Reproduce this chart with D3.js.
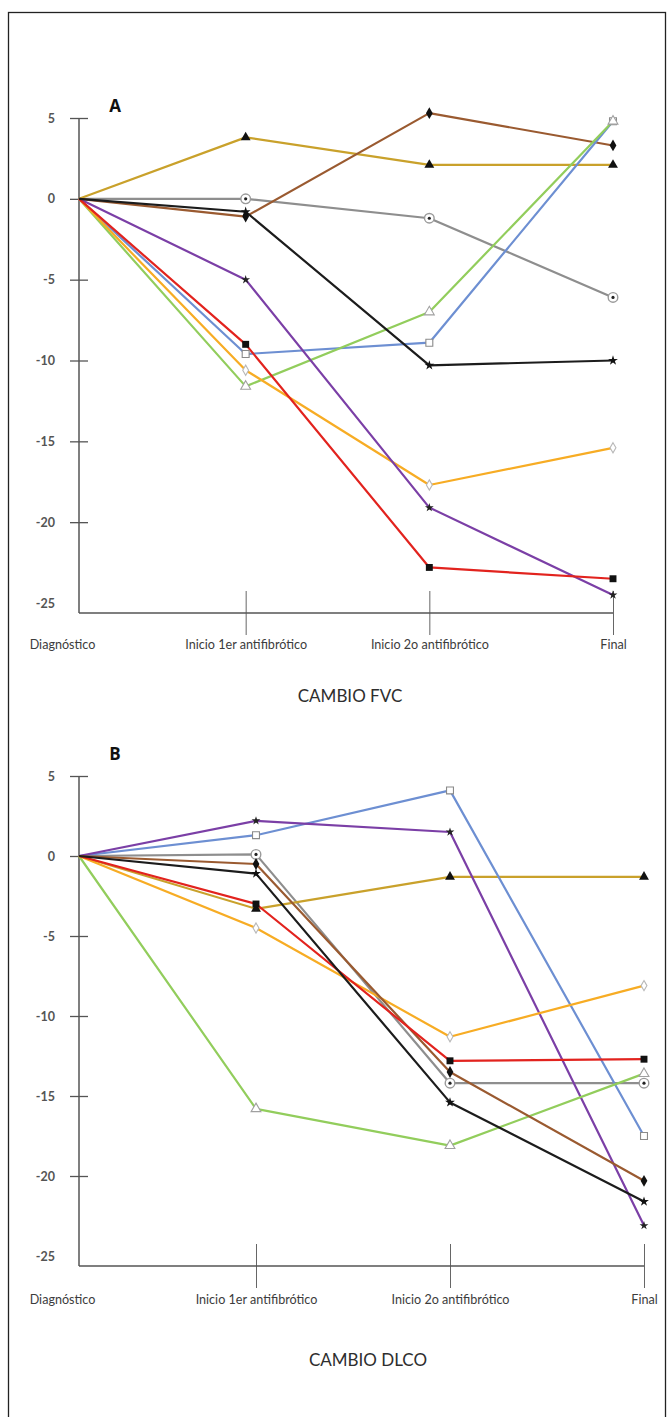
<!DOCTYPE html>
<html>
<head>
<meta charset="utf-8">
<script src="https://cdn.jsdelivr.net/npm/d3@7"></script>
<style>
  html, body { margin: 0; padding: 0; background: #fff; }
  svg { display: block; }
  .ytick text { font-family: Lato, "Open Sans", sans-serif; font-weight: 700; font-size: 12.5px; fill: #555; }
  .xtick text { font-family: Lato, "Open Sans", sans-serif; font-size: 12.6px; fill: #3c3c3c; }
  .ptitle { font-family: Lato, "Open Sans", sans-serif; font-size: 17px; fill: #2e2e2e; }
  .plabel { font-family: "Open Sans", Lato, sans-serif; font-weight: 700; font-size: 17px; fill: #111; }
</style>
</head>
<body>
<script>
// Time points shared by both panels
const categories = ["Diagnóstico", "Inicio 1er antifibrótico", "Inicio 2o antifibrótico", "Final"];
const yTickValues = [5, 0, -5, -10, -15, -20, -25];

// Panel A: change in FVC (%) per patient
const fvcGold   = [0, 3.8, 2.1, 2.1];
const fvcBrown  = [0, -1.1, 5.3, 3.3];
const fvcGray   = [0, 0.0, -1.2, -6.1];
const fvcBlack  = [0, -0.8, -10.3, -10.0];
const fvcBlue   = [0, -9.6, -8.9, 4.8];
const fvcGreen  = [0, -11.6, -7.0, 4.8];
const fvcOrange = [0, -10.6, -17.7, -15.4];
const fvcRed    = [0, -9.0, -22.8, -23.5];
const fvcPurple = [0, -5.0, -19.1, -24.5];

// Panel B: change in DLCO (%) per patient
const dlcoGold   = [0, -3.3, -1.3, -1.3];
const dlcoBrown  = [0, -0.5, -13.5, -20.3];
const dlcoGray   = [0, 0.1, -14.2, -14.2];
const dlcoBlack  = [0, -1.1, -15.4, -21.6];
const dlcoBlue   = [0, 1.3, 4.1, -17.5];
const dlcoGreen  = [0, -15.8, -18.1, -13.6];
const dlcoOrange = [0, -4.5, -11.3, -8.1];
const dlcoRed    = [0, -3.0, -12.8, -12.7];
const dlcoPurple = [0, 2.2, 1.5, -23.1];

// Line colour and marker style for each patient
const styles = {
  gold:   { color: "#c9a12b", symbol: d3.symbolTriangle, size: 42, fill: "#111", stroke: "none" },
  brown:  { color: "#9a5a30", symbol: d3.symbolDiamond,  size: 40, fill: "#111", stroke: "none" },
  gray:   { color: "#8e8e8e", symbol: "ring",            size: 0,  fill: "#fff", stroke: "#9a9a9a" },
  black:  { color: "#1c1c1c", symbol: d3.symbolStar,     size: 30, fill: "#111", stroke: "none" },
  blue:   { color: "#6d8fd2", symbol: d3.symbolSquare,   size: 48, fill: "#fff", stroke: "#8a8a8a" },
  green:  { color: "#92cd5c", symbol: d3.symbolTriangle, size: 42, fill: "#fff", stroke: "#a0a0a0" },
  orange: { color: "#f7ac24", symbol: d3.symbolDiamond,  size: 30, fill: "#fff", stroke: "#b8b8b8" },
  red:    { color: "#e2231e", symbol: d3.symbolSquare,   size: 48, fill: "#111", stroke: "none" },
  purple: { color: "#7b3fa6", symbol: d3.symbolStar,     size: 24, fill: "#222", stroke: "none" }
};

// Categories are evenly spaced from xStart; the value axis sits at axisX,
// where every patient line begins.
const panels = [
  {
    letter: "A", title: "CAMBIO FVC",
    series: [
      ["gray", fvcGray], ["gold", fvcGold], ["brown", fvcBrown], ["blue", fvcBlue],
      ["green", fvcGreen], ["orange", fvcOrange], ["purple", fvcPurple],
      ["red", fvcRed], ["black", fvcBlack]
    ],
    xStart: 62, xEnd: 613, axisX: 79, yTop: 118, yBottom: 603, axisY: 613,
    labelDy: 36, titleY: 698, titleX: 350, letterX: 115, letterY: 112
  },
  {
    letter: "B", title: "CAMBIO DLCO",
    series: [
      ["gray", dlcoGray], ["gold", dlcoGold], ["blue", dlcoBlue], ["purple", dlcoPurple],
      ["green", dlcoGreen], ["orange", dlcoOrange], ["brown", dlcoBrown],
      ["red", dlcoRed], ["black", dlcoBlack]
    ],
    xStart: 62, xEnd: 644, axisX: 79, yTop: 776, yBottom: 1256, axisY: 1266,
    labelDy: 38, titleY: 1362, titleX: 368, letterX: 115, letterY: 760
  }
];

const W = 668, H = 1417;
const svg = d3.select("body").append("svg").attr("width", W).attr("height", H);
svg.append("rect").attr("width", W).attr("height", H).attr("fill", "#fff");

// Outer frame around the figure
svg.append("rect")
  .attr("x", 8.5).attr("y", 12.5).attr("width", 657).attr("height", 1410)
  .attr("fill", "none").attr("stroke", "#222").attr("stroke-width", 1.3);

panels.forEach(p => {
  const g = svg.append("g");
  const x = d3.scalePoint().domain(categories).range([p.xStart, p.xEnd]);
  const xAt = c => Math.max(x(c), p.axisX);
  const y = d3.scaleLinear().domain([-25, 5]).range([p.yBottom, p.yTop]);

  // Vertical axis: ticks crossing the axis line
  const yAxis = g.append("g").attr("class", "ytick")
    .attr("transform", `translate(${p.axisX},0)`)
    .call(d3.axisLeft(y).tickValues(yTickValues).tickSize(9).tickPadding(15));
  yAxis.select(".domain").remove();
  yAxis.selectAll(".tick line")
    .attr("x1", 9).attr("x2", -9).attr("stroke", "#555").attr("stroke-width", 1.3)
    .filter(d => d === -25).remove();
  yAxis.selectAll(".tick text").text(d => String(d));
  g.append("line")
    .attr("x1", p.axisX).attr("x2", p.axisX).attr("y1", y(5)).attr("y2", p.axisY)
    .attr("stroke", "#555").attr("stroke-width", 1.5);

  // Horizontal axis with the time-point labels
  const xAxis = g.append("g").attr("class", "xtick")
    .attr("transform", `translate(0,${p.axisY})`)
    .call(d3.axisBottom(x).tickSize(22).tickPadding(p.labelDy - 22 - 9));
  xAxis.select(".domain").remove();
  xAxis.selectAll(".tick line")
    .attr("y1", -22).attr("y2", 22).attr("stroke", "#666").attr("stroke-width", 1)
    .filter(d => d === categories[0]).remove();
  g.append("line")
    .attr("x1", p.axisX).attr("x2", p.xEnd).attr("y1", p.axisY).attr("y2", p.axisY)
    .attr("stroke", "#555").attr("stroke-width", 1.5);

  // Patient lines
  const line = d3.line().x((d, i) => xAt(categories[i])).y(d => y(d));
  p.series.forEach(([key, values]) => {
    const s = styles[key];
    g.append("path").datum(values)
      .attr("d", line).attr("fill", "none")
      .attr("stroke", s.color).attr("stroke-width", 2.2)
      .attr("stroke-linejoin", "round");
  });

  // Markers on the three follow-up points
  p.series.forEach(([key, values]) => {
    const s = styles[key];
    const pts = values.map((v, i) => ({ v, c: categories[i] })).slice(1);
    const mk = g.append("g");
    pts.forEach(pt => {
      const cx = xAt(pt.c), cy = y(pt.v);
      if (s.symbol === "ring") {
        mk.append("circle").attr("cx", cx).attr("cy", cy).attr("r", 4.8)
          .attr("fill", s.fill).attr("stroke", s.stroke).attr("stroke-width", 1.4);
        mk.append("circle").attr("cx", cx).attr("cy", cy).attr("r", 1.6).attr("fill", "#222");
      } else {
        mk.append("path")
          .attr("d", d3.symbol().type(s.symbol).size(s.size)())
          .attr("transform", `translate(${cx},${cy})`)
          .attr("fill", s.fill)
          .attr("stroke", s.stroke).attr("stroke-width", 1.1);
      }
    });
  });

  // Panel letter and caption
  g.append("text").attr("class", "plabel").attr("x", p.letterX).attr("y", p.letterY)
    .attr("text-anchor", "middle").text(p.letter);
  g.append("text").attr("class", "ptitle").attr("x", p.titleX).attr("y", p.titleY)
    .attr("text-anchor", "middle").attr("dominant-baseline", "middle").text(p.title);
});
</script>
</body>
</html>
